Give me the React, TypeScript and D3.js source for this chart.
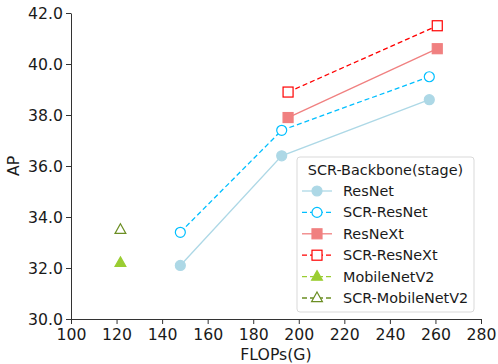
import { useRef, useEffect } from "react";
import * as d3 from "d3";

const xTicks = [100, 120, 140, 160, 180, 200, 220, 240, 260, 280];
const yTicks = [30, 32, 34, 36, 38, 40, 42];

const resnetX = [148, 192.5, 257.3];
const resnetY = [32.1, 36.4, 38.6];
const scrResnetY = [33.4, 37.4, 39.5];
const resnextX = [195.3, 260.8];
const resnextY = [37.9, 40.6];
const scrResnextY = [38.9, 41.5];
const mobileX = [121.7];
const mobileY = [32.2];
const scrMobileY = [33.5];

type Marker = "circle" | "square" | "triangle";

interface Series {
  name: string;
  xs: number[];
  ys: number[];
  color: string;
  dashed: boolean;
  filled: boolean;
  marker: Marker;
}

const series: Series[] = [
  { name: "ResNet", xs: resnetX, ys: resnetY, color: "#add8e6", dashed: false, filled: true, marker: "circle" },
  { name: "SCR-ResNet", xs: resnetX, ys: scrResnetY, color: "#00bfff", dashed: true, filled: false, marker: "circle" },
  { name: "ResNeXt", xs: resnextX, ys: resnextY, color: "#f08080", dashed: false, filled: true, marker: "square" },
  { name: "SCR-ResNeXt", xs: resnextX, ys: scrResnextY, color: "#ff0000", dashed: true, filled: false, marker: "square" },
  { name: "MobileNetV2", xs: mobileX, ys: mobileY, color: "#9acd32", dashed: true, filled: true, marker: "triangle" },
  { name: "SCR-MobileNetV2", xs: mobileX, ys: scrMobileY, color: "#6b8e23", dashed: true, filled: false, marker: "triangle" },
];

const font = "DejaVu Sans, sans-serif";
const fsAxis = 15.7;
const fsLegend = 14.4;

function drawMarker(
  g: d3.Selection<SVGGElement, unknown, null, undefined>,
  s: Series,
  cx: number,
  cy: number,
) {
  const fill = s.filled ? s.color : "white";
  if (s.marker === "circle") {
    g.append("circle")
      .attr("cx", cx)
      .attr("cy", cy)
      .attr("r", 5)
      .attr("fill", fill)
      .attr("stroke", s.color)
      .attr("stroke-width", 1.2);
  } else if (s.marker === "square") {
    g.append("rect")
      .attr("x", cx - 5)
      .attr("y", cy - 5)
      .attr("width", 10)
      .attr("height", 10)
      .attr("fill", fill)
      .attr("stroke", s.color)
      .attr("stroke-width", 1.2);
  } else {
    const r = 6;
    g.append("path")
      .attr(
        "d",
        `M${cx},${cy - r} L${cx + r * 0.9},${cy + r * 0.6} L${cx - r * 0.9},${cy + r * 0.6} Z`,
      )
      .attr("fill", fill)
      .attr("stroke", s.color)
      .attr("stroke-width", 1.2);
  }
}

export default function App() {
  const svgRef = useRef<SVGSVGElement>(null);

  useEffect(() => {
    if (!svgRef.current) return;
    const width = 498;
    const height = 364;
    const margin = { top: 13, right: 17, bottom: 45, left: 71 };
    const innerW = width - margin.left - margin.right;
    const innerH = height - margin.top - margin.bottom;

    const svg = d3.select(svgRef.current);
    svg.selectAll("*").remove();

    const x = d3.scaleLinear().domain([100, 280]).range([0, innerW]);
    const y = d3.scaleLinear().domain([30, 42]).range([innerH, 0]);

    const g = svg
      .append("g")
      .attr("transform", `translate(${margin.left},${margin.top})`);

    // Axes
    const styleAxis = (sel: d3.Selection<SVGGElement, unknown, null, undefined>) => {
      sel.select(".domain").attr("stroke", "#333").attr("stroke-width", 1);
      sel.selectAll(".tick line").attr("stroke", "#333");
      sel
        .selectAll("text")
        .attr("fill", "#1a1a1a")
        .attr("font-size", fsAxis)
        .attr("font-family", font);
    };

    g.append("g")
      .attr("transform", `translate(0,${innerH})`)
      .call(d3.axisBottom(x).tickValues(xTicks).tickSize(5).tickPadding(5).tickSizeOuter(0).tickFormat((d) => `${d}`))
      .call(styleAxis);

    g.append("g")
      .call(d3.axisLeft(y).tickValues(yTicks).tickSize(5).tickPadding(3).tickSizeOuter(0).tickFormat((d) => (d as number).toFixed(1)))
      .call(styleAxis);

    svg
      .append("text")
      .attr("x", margin.left + innerW / 2)
      .attr("y", 359.5)
      .attr("text-anchor", "middle")
      .attr("fill", "#1a1a1a")
      .attr("font-size", fsAxis)
      .attr("font-family", font)
      .text("FLOPs(G)");

    svg
      .append("text")
      .attr("transform", `translate(18.5,${margin.top + innerH / 2}) rotate(-90)`)
      .attr("text-anchor", "middle")
      .attr("fill", "#1a1a1a")
      .attr("font-size", fsAxis)
      .attr("font-family", font)
      .text("AP");

    // Lines and markers
    const line = d3
      .line<[number, number]>()
      .x((d) => x(d[0]))
      .y((d) => y(d[1]));

    series.forEach((s) => {
      const pts: [number, number][] = s.xs.map((v, i) => [v, s.ys[i]]);
      if (pts.length > 1) {
        g.append("path")
          .datum(pts)
          .attr("fill", "none")
          .attr("stroke", s.color)
          .attr("stroke-width", 1.3)
          .attr("stroke-dasharray", s.dashed ? "5,3" : null)
          .attr("d", line);
      }
      pts.forEach((p) => drawMarker(g, s, x(p[0]), y(p[1])));
    });

    // Legend
    const lg = svg.append("g").attr("transform", "translate(297,157)");
    lg.append("rect")
      .attr("x", 0)
      .attr("y", 0)
      .attr("width", 177)
      .attr("height", 155)
      .attr("rx", 3)
      .attr("fill", "white")
      .attr("fill-opacity", 0.85)
      .attr("stroke", "#d9d9d9");
    lg.append("text")
      .attr("x", 88.5)
      .attr("y", 18)
      .attr("text-anchor", "middle")
      .attr("fill", "#1a1a1a")
      .attr("font-size", fsLegend)
      .attr("font-family", font)
      .text("SCR-Backbone(stage)");

    series.forEach((s, i) => {
      const cy = 34 + i * 21.4;
      lg.append("line")
        .attr("x1", 5)
        .attr("x2", 35)
        .attr("y1", cy)
        .attr("y2", cy)
        .attr("stroke", s.color)
        .attr("stroke-width", 1.3)
        .attr("stroke-dasharray", s.dashed ? "5,3" : null);
      drawMarker(lg, s, 20, cy);
      lg.append("text")
        .attr("x", 46)
        .attr("y", cy + 5)
        .attr("fill", "#1a1a1a")
        .attr("font-size", fsLegend)
        .attr("font-family", font)
        .text(s.name);
    });
  }, []);

  return (
    <svg
      ref={svgRef}
      width={498}
      height={364}
      style={{ position: "absolute", left: 0, top: 0, background: "white" }}
    />
  );
}
